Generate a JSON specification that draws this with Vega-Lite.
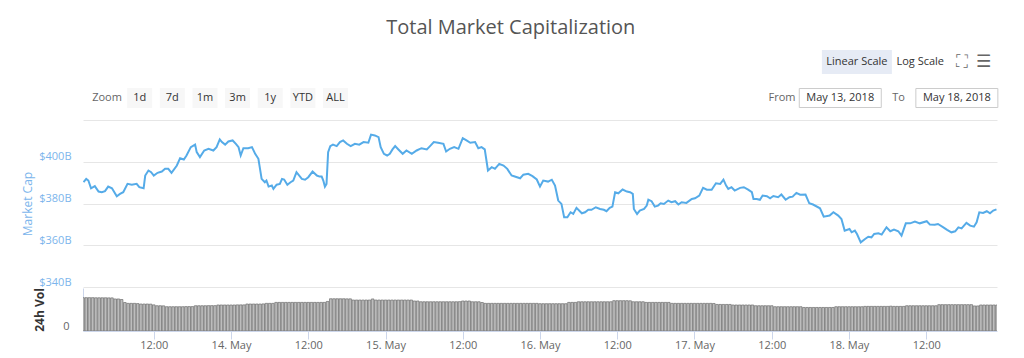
{
"$schema": "https://vega.github.io/schema/vega-lite/v6.json",
"padding": {"left": 21, "top": 18, "right": 5, "bottom": 5},
"background": "white",
"config": {"view": {"stroke": null}, "font": "Open Sans"},
"title": {"text": "Total Market Capitalization", "fontSize": 20, "font": "Open Sans", "fontWeight": "normal", "color": "#555555", "anchor": "middle", "frame": "bounds", "offset": 6},
"spacing": 0,
"resolve": {"scale": {"x": "shared"}},
"datasets": {
"ui": [
{"label": "Linear Scale", "group": "scale", "tier": "top"},
{"label": "Log Scale", "group": "scale", "tier": "top"},
{"label": "⛶", "group": "icons", "tier": "top"},
{"label": "☰", "group": "icons", "tier": "top"},
{"label": "Zoom", "group": "zoom", "tier": "bottom"},
{"label": "1d", "group": "zoom", "tier": "bottom"},
{"label": "7d", "group": "zoom", "tier": "bottom"},
{"label": "1m", "group": "zoom", "tier": "bottom"},
{"label": "3m", "group": "zoom", "tier": "bottom"},
{"label": "1y", "group": "zoom", "tier": "bottom"},
{"label": "YTD", "group": "zoom", "tier": "bottom"},
{"label": "ALL", "group": "zoom", "tier": "bottom"},
{"label": "From", "group": "range", "tier": "bottom"},
{"label": "May 13, 2018", "group": "range", "tier": "bottom"},
{"label": "To", "group": "range", "tier": "bottom"},
{"label": "May 18, 2018", "group": "range", "tier": "bottom"}
],
"mcap": [
{"t":"2018-05-13T01:05","cap":390.2},{"t":"2018-05-13T01:30","cap":391.8},{"t":"2018-05-13T01:50","cap":391.0},{"t":"2018-05-13T02:15","cap":387.3},{"t":"2018-05-13T02:50","cap":388.3},{"t":"2018-05-13T03:25","cap":385.7},{"t":"2018-05-13T03:55","cap":385.4},{"t":"2018-05-13T04:25","cap":385.9},{"t":"2018-05-13T04:55","cap":388.1},{"t":"2018-05-13T05:30","cap":387.3},{"t":"2018-05-13T06:15","cap":383.5},{"t":"2018-05-13T06:45","cap":384.6},{"t":"2018-05-13T07:15","cap":385.4},{"t":"2018-05-13T07:55","cap":389.4},{"t":"2018-05-13T08:35","cap":389.0},{"t":"2018-05-13T09:20","cap":389.4},{"t":"2018-05-13T09:45","cap":387.8},{"t":"2018-05-13T10:25","cap":387.3},{"t":"2018-05-13T10:40","cap":393.4},{"t":"2018-05-13T11:10","cap":395.8},{"t":"2018-05-13T11:35","cap":395.0},{"t":"2018-05-13T12:00","cap":393.4},{"t":"2018-05-13T12:35","cap":394.7},{"t":"2018-05-13T13:15","cap":395.3},{"t":"2018-05-13T13:45","cap":396.6},{"t":"2018-05-13T14:15","cap":396.6},{"t":"2018-05-13T14:45","cap":394.7},{"t":"2018-05-13T15:35","cap":398.2},{"t":"2018-05-13T16:05","cap":401.7},{"t":"2018-05-13T16:40","cap":401.1},{"t":"2018-05-13T17:05","cap":403.0},{"t":"2018-05-13T17:45","cap":407.0},{"t":"2018-05-13T18:25","cap":408.2},{"t":"2018-05-13T18:40","cap":404.6},{"t":"2018-05-13T19:10","cap":402.2},{"t":"2018-05-13T19:50","cap":405.4},{"t":"2018-05-13T20:30","cap":406.2},{"t":"2018-05-13T21:15","cap":405.4},{"t":"2018-05-13T21:45","cap":407.0},{"t":"2018-05-13T22:15","cap":410.7},{"t":"2018-05-13T22:35","cap":409.4},{"t":"2018-05-13T23:05","cap":408.2},{"t":"2018-05-13T23:35","cap":409.7},
{"t":"2018-05-14T00:15","cap":410.2},{"t":"2018-05-14T00:45","cap":408.6},{"t":"2018-05-14T01:10","cap":407.0},{"t":"2018-05-14T01:30","cap":403.0},{"t":"2018-05-14T01:55","cap":406.5},{"t":"2018-05-14T02:40","cap":406.5},{"t":"2018-05-14T03:15","cap":407.0},{"t":"2018-05-14T03:45","cap":403.8},{"t":"2018-05-14T04:15","cap":401.4},{"t":"2018-05-14T04:45","cap":391.8},{"t":"2018-05-14T05:15","cap":390.2},{"t":"2018-05-14T05:30","cap":391.0},{"t":"2018-05-14T05:50","cap":388.1},{"t":"2018-05-14T06:20","cap":388.6},{"t":"2018-05-14T06:35","cap":387.0},{"t":"2018-05-14T07:05","cap":389.0},{"t":"2018-05-14T07:35","cap":389.4},{"t":"2018-05-14T07:55","cap":391.8},{"t":"2018-05-14T08:15","cap":391.5},{"t":"2018-05-14T08:45","cap":389.0},{"t":"2018-05-14T09:15","cap":390.2},{"t":"2018-05-14T09:40","cap":391.0},{"t":"2018-05-14T10:10","cap":395.0},{"t":"2018-05-14T11:00","cap":391.8},{"t":"2018-05-14T11:30","cap":391.4},{"t":"2018-05-14T12:00","cap":392.6},{"t":"2018-05-14T12:40","cap":395.3},{"t":"2018-05-14T13:20","cap":393.4},{"t":"2018-05-14T13:45","cap":392.9},{"t":"2018-05-14T14:05","cap":392.9},{"t":"2018-05-14T14:20","cap":391.0},{"t":"2018-05-14T14:35","cap":388.1},{"t":"2018-05-14T14:50","cap":389.4},{"t":"2018-05-14T15:05","cap":404.6},{"t":"2018-05-14T15:25","cap":407.5},{"t":"2018-05-14T15:50","cap":408.2},{"t":"2018-05-14T16:25","cap":407.5},{"t":"2018-05-14T16:55","cap":409.4},{"t":"2018-05-14T17:25","cap":410.2},{"t":"2018-05-14T18:00","cap":408.6},{"t":"2018-05-14T18:35","cap":407.5},{"t":"2018-05-14T19:15","cap":408.6},{"t":"2018-05-14T19:55","cap":408.2},{"t":"2018-05-14T20:35","cap":409.4},{"t":"2018-05-14T21:20","cap":409.1},{"t":"2018-05-14T21:45","cap":413.0},{"t":"2018-05-14T22:20","cap":412.6},{"t":"2018-05-14T22:55","cap":411.8},{"t":"2018-05-14T23:15","cap":407.0},{"t":"2018-05-14T23:45","cap":403.8},
{"t":"2018-05-15T00:15","cap":403.0},{"t":"2018-05-15T00:40","cap":403.8},{"t":"2018-05-15T01:05","cap":405.9},{"t":"2018-05-15T01:30","cap":407.5},{"t":"2018-05-15T02:00","cap":405.9},{"t":"2018-05-15T02:40","cap":403.8},{"t":"2018-05-15T03:15","cap":405.4},{"t":"2018-05-15T04:05","cap":403.8},{"t":"2018-05-15T04:50","cap":405.4},{"t":"2018-05-15T05:35","cap":406.5},{"t":"2018-05-15T06:25","cap":405.9},{"t":"2018-05-15T06:55","cap":407.5},{"t":"2018-05-15T07:30","cap":409.4},{"t":"2018-05-15T08:10","cap":409.1},{"t":"2018-05-15T09:00","cap":408.6},{"t":"2018-05-15T09:25","cap":404.9},{"t":"2018-05-15T10:00","cap":406.2},{"t":"2018-05-15T10:40","cap":407.0},{"t":"2018-05-15T11:20","cap":406.2},{"t":"2018-05-15T12:00","cap":411.3},{"t":"2018-05-15T12:35","cap":410.2},{"t":"2018-05-15T13:10","cap":409.1},{"t":"2018-05-15T13:55","cap":409.4},{"t":"2018-05-15T14:25","cap":406.5},{"t":"2018-05-15T14:55","cap":407.0},{"t":"2018-05-15T15:25","cap":405.9},{"t":"2018-05-15T15:55","cap":395.8},{"t":"2018-05-15T16:30","cap":397.4},{"t":"2018-05-15T17:00","cap":396.6},{"t":"2018-05-15T17:40","cap":399.0},{"t":"2018-05-15T18:20","cap":398.2},{"t":"2018-05-15T18:55","cap":396.6},{"t":"2018-05-15T19:35","cap":393.4},{"t":"2018-05-15T20:05","cap":392.9},{"t":"2018-05-15T20:55","cap":392.1},{"t":"2018-05-15T21:25","cap":393.8},{"t":"2018-05-15T22:10","cap":394.2},{"t":"2018-05-15T22:50","cap":393.1},{"t":"2018-05-15T23:30","cap":391.5},
{"t":"2018-05-16T00:00","cap":388.1},{"t":"2018-05-16T00:30","cap":391.0},{"t":"2018-05-16T01:15","cap":390.5},{"t":"2018-05-16T01:50","cap":391.4},{"t":"2018-05-16T02:20","cap":388.6},{"t":"2018-05-16T02:50","cap":381.4},{"t":"2018-05-16T03:20","cap":379.8},{"t":"2018-05-16T03:45","cap":373.4},{"t":"2018-05-16T04:15","cap":373.4},{"t":"2018-05-16T04:45","cap":375.8},{"t":"2018-05-16T05:10","cap":375.0},{"t":"2018-05-16T05:40","cap":377.9},{"t":"2018-05-16T06:30","cap":375.3},{"t":"2018-05-16T07:00","cap":375.8},{"t":"2018-05-16T07:30","cap":377.0},{"t":"2018-05-16T08:00","cap":377.0},{"t":"2018-05-16T08:40","cap":378.2},{"t":"2018-05-16T09:20","cap":377.4},{"t":"2018-05-16T09:55","cap":377.0},{"t":"2018-05-16T10:20","cap":376.3},{"t":"2018-05-16T10:50","cap":377.9},{"t":"2018-05-16T11:15","cap":378.5},{"t":"2018-05-16T11:40","cap":385.4},{"t":"2018-05-16T12:10","cap":384.9},{"t":"2018-05-16T12:50","cap":386.7},{"t":"2018-05-16T13:30","cap":385.7},{"t":"2018-05-16T14:00","cap":385.4},{"t":"2018-05-16T14:25","cap":384.6},{"t":"2018-05-16T14:35","cap":377.4},{"t":"2018-05-16T15:05","cap":375.0},{"t":"2018-05-16T15:30","cap":376.6},{"t":"2018-05-16T16:10","cap":377.4},{"t":"2018-05-16T16:35","cap":379.0},{"t":"2018-05-16T16:50","cap":381.8},{"t":"2018-05-16T17:20","cap":381.1},{"t":"2018-05-16T17:50","cap":378.5},{"t":"2018-05-16T18:20","cap":379.0},{"t":"2018-05-16T18:45","cap":380.1},{"t":"2018-05-16T19:15","cap":379.8},{"t":"2018-05-16T19:55","cap":381.4},{"t":"2018-05-16T20:25","cap":380.6},{"t":"2018-05-16T21:00","cap":381.1},{"t":"2018-05-16T21:30","cap":379.5},{"t":"2018-05-16T22:00","cap":380.6},{"t":"2018-05-16T22:45","cap":380.3},{"t":"2018-05-16T23:35","cap":382.2},
{"t":"2018-05-17T00:05","cap":382.5},{"t":"2018-05-17T00:45","cap":383.8},{"t":"2018-05-17T01:20","cap":387.5},{"t":"2018-05-17T01:55","cap":386.6},{"t":"2018-05-17T02:40","cap":386.6},{"t":"2018-05-17T03:20","cap":389.7},{"t":"2018-05-17T04:00","cap":389.4},{"t":"2018-05-17T04:30","cap":391.4},{"t":"2018-05-17T04:55","cap":388.6},{"t":"2018-05-17T05:15","cap":387.0},{"t":"2018-05-17T05:45","cap":387.8},{"t":"2018-05-17T06:15","cap":386.2},{"t":"2018-05-17T07:05","cap":387.5},{"t":"2018-05-17T07:40","cap":387.8},{"t":"2018-05-17T08:20","cap":386.6},{"t":"2018-05-17T08:55","cap":385.4},{"t":"2018-05-17T09:10","cap":382.2},{"t":"2018-05-17T09:40","cap":382.2},{"t":"2018-05-17T10:10","cap":381.8},{"t":"2018-05-17T10:35","cap":383.8},{"t":"2018-05-17T11:15","cap":383.5},{"t":"2018-05-17T11:45","cap":382.5},{"t":"2018-05-17T12:15","cap":383.6},{"t":"2018-05-17T13:00","cap":383.0},{"t":"2018-05-17T13:30","cap":384.3},{"t":"2018-05-17T14:10","cap":381.8},{"t":"2018-05-17T14:45","cap":383.0},{"t":"2018-05-17T15:15","cap":383.3},{"t":"2018-05-17T15:50","cap":385.1},{"t":"2018-05-17T16:25","cap":384.2},{"t":"2018-05-17T17:15","cap":384.3},{"t":"2018-05-17T17:50","cap":380.1},{"t":"2018-05-17T18:25","cap":379.5},{"t":"2018-05-17T19:30","cap":377.7},{"t":"2018-05-17T20:05","cap":373.7},{"t":"2018-05-17T21:00","cap":374.2},{"t":"2018-05-17T21:35","cap":375.8},{"t":"2018-05-17T22:20","cap":374.2},{"t":"2018-05-17T22:50","cap":372.6},{"t":"2018-05-17T23:20","cap":367.0},
{"t":"2018-05-18T00:05","cap":367.8},{"t":"2018-05-18T00:25","cap":366.2},{"t":"2018-05-18T00:55","cap":367.0},{"t":"2018-05-18T01:15","cap":365.4},{"t":"2018-05-18T01:50","cap":361.4},{"t":"2018-05-18T02:30","cap":363.0},{"t":"2018-05-18T03:00","cap":364.1},{"t":"2018-05-18T03:30","cap":363.8},{"t":"2018-05-18T03:55","cap":365.4},{"t":"2018-05-18T04:35","cap":365.7},{"t":"2018-05-18T05:05","cap":365.1},{"t":"2018-05-18T05:50","cap":368.6},{"t":"2018-05-18T06:25","cap":366.7},{"t":"2018-05-18T07:00","cap":367.5},{"t":"2018-05-18T07:40","cap":366.7},{"t":"2018-05-18T08:10","cap":364.6},{"t":"2018-05-18T08:50","cap":370.5},{"t":"2018-05-18T09:30","cap":370.5},{"t":"2018-05-18T10:15","cap":371.3},{"t":"2018-05-18T11:00","cap":370.5},{"t":"2018-05-18T12:05","cap":371.5},{"t":"2018-05-18T12:35","cap":369.9},{"t":"2018-05-18T13:20","cap":369.8},{"t":"2018-05-18T13:50","cap":370.2},{"t":"2018-05-18T14:40","cap":368.6},{"t":"2018-05-18T15:15","cap":367.4},{"t":"2018-05-18T15:55","cap":366.2},{"t":"2018-05-18T16:30","cap":366.7},{"t":"2018-05-18T17:00","cap":368.6},{"t":"2018-05-18T17:30","cap":368.1},{"t":"2018-05-18T18:15","cap":370.7},{"t":"2018-05-18T18:50","cap":369.4},{"t":"2018-05-18T19:25","cap":368.9},{"t":"2018-05-18T19:50","cap":371.0},{"t":"2018-05-18T20:15","cap":375.8},{"t":"2018-05-18T20:50","cap":375.5},{"t":"2018-05-18T21:25","cap":376.3},{"t":"2018-05-18T21:55","cap":375.3},{"t":"2018-05-18T22:25","cap":376.6},{"t":"2018-05-18T22:55","cap":377.2}
],
"vol": [
{"t":"2018-05-13T01:00","v":31.0},{"t":"2018-05-13T01:30","v":31.0},{"t":"2018-05-13T02:00","v":31.0},{"t":"2018-05-13T02:30","v":31.0},{"t":"2018-05-13T03:00","v":30.9},{"t":"2018-05-13T03:30","v":30.9},{"t":"2018-05-13T04:00","v":30.9},{"t":"2018-05-13T04:30","v":30.9},{"t":"2018-05-13T05:00","v":30.8},{"t":"2018-05-13T05:30","v":30.8},{"t":"2018-05-13T06:00","v":29.8},{"t":"2018-05-13T06:30","v":29.8},{"t":"2018-05-13T07:00","v":29.3},{"t":"2018-05-13T07:30","v":26.5},{"t":"2018-05-13T08:00","v":25.7},{"t":"2018-05-13T08:30","v":25.7},{"t":"2018-05-13T09:00","v":25.7},{"t":"2018-05-13T09:30","v":25.5},{"t":"2018-05-13T10:00","v":25.1},{"t":"2018-05-13T10:30","v":25.1},{"t":"2018-05-13T11:00","v":25.1},{"t":"2018-05-13T11:30","v":25.0},{"t":"2018-05-13T12:00","v":24.3},{"t":"2018-05-13T12:30","v":23.5},{"t":"2018-05-13T13:00","v":23.5},{"t":"2018-05-13T13:30","v":23.4},{"t":"2018-05-13T14:00","v":22.6},{"t":"2018-05-13T14:30","v":22.6},{"t":"2018-05-13T15:00","v":22.6},{"t":"2018-05-13T15:30","v":22.6},{"t":"2018-05-13T16:00","v":22.6},{"t":"2018-05-13T16:30","v":22.6},{"t":"2018-05-13T17:00","v":22.7},{"t":"2018-05-13T17:30","v":22.7},{"t":"2018-05-13T18:00","v":22.7},{"t":"2018-05-13T18:30","v":23.5},{"t":"2018-05-13T19:00","v":23.5},{"t":"2018-05-13T19:30","v":23.5},{"t":"2018-05-13T20:00","v":23.5},{"t":"2018-05-13T20:30","v":23.6},{"t":"2018-05-13T21:00","v":23.6},{"t":"2018-05-13T21:30","v":23.6},{"t":"2018-05-13T22:00","v":24.2},{"t":"2018-05-13T22:30","v":24.2},{"t":"2018-05-13T23:00","v":24.2},{"t":"2018-05-13T23:30","v":24.2},
{"t":"2018-05-14T00:00","v":24.2},{"t":"2018-05-14T00:30","v":24.2},{"t":"2018-05-14T01:00","v":24.3},{"t":"2018-05-14T01:30","v":24.3},{"t":"2018-05-14T02:00","v":24.3},{"t":"2018-05-14T02:30","v":25.1},{"t":"2018-05-14T03:00","v":25.1},{"t":"2018-05-14T03:30","v":25.1},{"t":"2018-05-14T04:00","v":25.1},{"t":"2018-05-14T04:30","v":25.1},{"t":"2018-05-14T05:00","v":25.2},{"t":"2018-05-14T05:30","v":25.7},{"t":"2018-05-14T06:00","v":25.7},{"t":"2018-05-14T06:30","v":25.7},{"t":"2018-05-14T07:00","v":26.6},{"t":"2018-05-14T07:30","v":26.6},{"t":"2018-05-14T08:00","v":26.6},{"t":"2018-05-14T08:30","v":26.6},{"t":"2018-05-14T09:00","v":26.6},{"t":"2018-05-14T09:30","v":26.6},{"t":"2018-05-14T10:00","v":26.6},{"t":"2018-05-14T10:30","v":26.6},{"t":"2018-05-14T11:00","v":26.6},{"t":"2018-05-14T11:30","v":26.6},{"t":"2018-05-14T12:00","v":26.6},{"t":"2018-05-14T12:30","v":26.6},{"t":"2018-05-14T13:00","v":26.6},{"t":"2018-05-14T13:30","v":26.6},{"t":"2018-05-14T14:00","v":26.6},{"t":"2018-05-14T14:30","v":26.6},{"t":"2018-05-14T15:00","v":27.5},{"t":"2018-05-14T15:30","v":30.0},{"t":"2018-05-14T16:00","v":30.0},{"t":"2018-05-14T16:30","v":30.0},{"t":"2018-05-14T17:00","v":30.0},{"t":"2018-05-14T17:30","v":30.0},{"t":"2018-05-14T18:00","v":29.9},{"t":"2018-05-14T18:30","v":29.9},{"t":"2018-05-14T19:00","v":28.8},{"t":"2018-05-14T19:30","v":28.8},{"t":"2018-05-14T20:00","v":28.8},{"t":"2018-05-14T20:30","v":28.8},{"t":"2018-05-14T21:00","v":28.8},{"t":"2018-05-14T21:30","v":28.8},{"t":"2018-05-14T22:00","v":29.8},{"t":"2018-05-14T22:30","v":28.8},{"t":"2018-05-14T23:00","v":28.8},{"t":"2018-05-14T23:30","v":28.8},
{"t":"2018-05-15T00:00","v":28.8},{"t":"2018-05-15T00:30","v":28.8},{"t":"2018-05-15T01:00","v":28.8},{"t":"2018-05-15T01:30","v":28.8},{"t":"2018-05-15T02:00","v":28.8},{"t":"2018-05-15T02:30","v":28.8},{"t":"2018-05-15T03:00","v":28.8},{"t":"2018-05-15T03:30","v":28.8},{"t":"2018-05-15T04:00","v":28.8},{"t":"2018-05-15T04:30","v":27.9},{"t":"2018-05-15T05:00","v":27.9},{"t":"2018-05-15T05:30","v":27.2},{"t":"2018-05-15T06:00","v":27.2},{"t":"2018-05-15T06:30","v":27.2},{"t":"2018-05-15T07:00","v":27.2},{"t":"2018-05-15T07:30","v":27.2},{"t":"2018-05-15T08:00","v":27.2},{"t":"2018-05-15T08:30","v":27.2},{"t":"2018-05-15T09:00","v":27.2},{"t":"2018-05-15T09:30","v":27.2},{"t":"2018-05-15T10:00","v":27.2},{"t":"2018-05-15T10:30","v":27.2},{"t":"2018-05-15T11:00","v":27.2},{"t":"2018-05-15T11:30","v":27.3},{"t":"2018-05-15T12:00","v":27.9},{"t":"2018-05-15T12:30","v":27.9},{"t":"2018-05-15T13:00","v":27.9},{"t":"2018-05-15T13:30","v":27.2},{"t":"2018-05-15T14:00","v":27.2},{"t":"2018-05-15T14:30","v":27.2},{"t":"2018-05-15T15:00","v":26.5},{"t":"2018-05-15T15:30","v":25.7},{"t":"2018-05-15T16:00","v":25.7},{"t":"2018-05-15T16:30","v":25.7},{"t":"2018-05-15T17:00","v":25.7},{"t":"2018-05-15T17:30","v":25.7},{"t":"2018-05-15T18:00","v":25.7},{"t":"2018-05-15T18:30","v":25.7},{"t":"2018-05-15T19:00","v":25.7},{"t":"2018-05-15T19:30","v":25.7},{"t":"2018-05-15T20:00","v":25.7},{"t":"2018-05-15T20:30","v":25.7},{"t":"2018-05-15T21:00","v":25.7},{"t":"2018-05-15T21:30","v":25.7},{"t":"2018-05-15T22:00","v":25.7},{"t":"2018-05-15T22:30","v":25.7},{"t":"2018-05-15T23:00","v":25.7},{"t":"2018-05-15T23:30","v":25.7},
{"t":"2018-05-16T00:00","v":25.4},{"t":"2018-05-16T00:30","v":25.4},{"t":"2018-05-16T01:00","v":25.4},{"t":"2018-05-16T01:30","v":25.4},{"t":"2018-05-16T02:00","v":25.4},{"t":"2018-05-16T02:30","v":25.4},{"t":"2018-05-16T03:00","v":25.4},{"t":"2018-05-16T03:30","v":25.4},{"t":"2018-05-16T04:00","v":25.4},{"t":"2018-05-16T04:30","v":26.6},{"t":"2018-05-16T05:00","v":26.6},{"t":"2018-05-16T05:30","v":26.6},{"t":"2018-05-16T06:00","v":27.2},{"t":"2018-05-16T06:30","v":27.2},{"t":"2018-05-16T07:00","v":27.2},{"t":"2018-05-16T07:30","v":27.2},{"t":"2018-05-16T08:00","v":27.2},{"t":"2018-05-16T08:30","v":27.2},{"t":"2018-05-16T09:00","v":27.2},{"t":"2018-05-16T09:30","v":27.2},{"t":"2018-05-16T10:00","v":27.2},{"t":"2018-05-16T10:30","v":27.2},{"t":"2018-05-16T11:00","v":27.2},{"t":"2018-05-16T11:30","v":28.2},{"t":"2018-05-16T12:00","v":28.2},{"t":"2018-05-16T12:30","v":28.2},{"t":"2018-05-16T13:00","v":28.2},{"t":"2018-05-16T13:30","v":28.2},{"t":"2018-05-16T14:00","v":28.1},{"t":"2018-05-16T14:30","v":27.2},{"t":"2018-05-16T15:00","v":27.2},{"t":"2018-05-16T15:30","v":27.2},{"t":"2018-05-16T16:00","v":27.2},{"t":"2018-05-16T16:30","v":26.6},{"t":"2018-05-16T17:00","v":26.6},{"t":"2018-05-16T17:30","v":26.6},{"t":"2018-05-16T18:00","v":26.6},{"t":"2018-05-16T18:30","v":26.6},{"t":"2018-05-16T19:00","v":26.6},{"t":"2018-05-16T19:30","v":26.6},{"t":"2018-05-16T20:00","v":26.6},{"t":"2018-05-16T20:30","v":25.7},{"t":"2018-05-16T21:00","v":25.7},{"t":"2018-05-16T21:30","v":25.7},{"t":"2018-05-16T22:00","v":25.7},{"t":"2018-05-16T22:30","v":25.7},{"t":"2018-05-16T23:00","v":25.7},{"t":"2018-05-16T23:30","v":25.7},
{"t":"2018-05-17T00:00","v":25.7},{"t":"2018-05-17T00:30","v":25.7},{"t":"2018-05-17T01:00","v":25.7},{"t":"2018-05-17T01:30","v":25.7},{"t":"2018-05-17T02:00","v":25.7},{"t":"2018-05-17T02:30","v":25.7},{"t":"2018-05-17T03:00","v":25.6},{"t":"2018-05-17T03:30","v":24.7},{"t":"2018-05-17T04:00","v":24.7},{"t":"2018-05-17T04:30","v":24.7},{"t":"2018-05-17T05:00","v":24.7},{"t":"2018-05-17T05:30","v":24.7},{"t":"2018-05-17T06:00","v":24.2},{"t":"2018-05-17T06:30","v":24.2},{"t":"2018-05-17T07:00","v":24.2},{"t":"2018-05-17T07:30","v":24.2},{"t":"2018-05-17T08:00","v":24.2},{"t":"2018-05-17T08:30","v":24.2},{"t":"2018-05-17T09:00","v":24.2},{"t":"2018-05-17T09:30","v":23.5},{"t":"2018-05-17T10:00","v":23.5},{"t":"2018-05-17T10:30","v":23.5},{"t":"2018-05-17T11:00","v":23.5},{"t":"2018-05-17T11:30","v":23.5},{"t":"2018-05-17T12:00","v":23.5},{"t":"2018-05-17T12:30","v":22.6},{"t":"2018-05-17T13:00","v":22.6},{"t":"2018-05-17T13:30","v":22.6},{"t":"2018-05-17T14:00","v":22.6},{"t":"2018-05-17T14:30","v":22.6},{"t":"2018-05-17T15:00","v":22.6},{"t":"2018-05-17T15:30","v":22.6},{"t":"2018-05-17T16:00","v":22.6},{"t":"2018-05-17T16:30","v":22.6},{"t":"2018-05-17T17:00","v":21.9},{"t":"2018-05-17T17:30","v":21.9},{"t":"2018-05-17T18:00","v":21.9},{"t":"2018-05-17T18:30","v":21.9},{"t":"2018-05-17T19:00","v":21.9},{"t":"2018-05-17T19:30","v":21.9},{"t":"2018-05-17T20:00","v":21.9},{"t":"2018-05-17T20:30","v":21.9},{"t":"2018-05-17T21:00","v":21.9},{"t":"2018-05-17T21:30","v":21.9},{"t":"2018-05-17T22:00","v":22.6},{"t":"2018-05-17T22:30","v":22.6},{"t":"2018-05-17T23:00","v":22.6},{"t":"2018-05-17T23:30","v":22.6},
{"t":"2018-05-18T00:00","v":22.6},{"t":"2018-05-18T00:30","v":22.6},{"t":"2018-05-18T01:00","v":22.6},{"t":"2018-05-18T01:30","v":22.6},{"t":"2018-05-18T02:00","v":22.6},{"t":"2018-05-18T02:30","v":22.9},{"t":"2018-05-18T03:00","v":22.9},{"t":"2018-05-18T03:30","v":22.9},{"t":"2018-05-18T04:00","v":22.9},{"t":"2018-05-18T04:30","v":22.9},{"t":"2018-05-18T05:00","v":22.9},{"t":"2018-05-18T05:30","v":22.9},{"t":"2018-05-18T06:00","v":22.9},{"t":"2018-05-18T06:30","v":23.1},{"t":"2018-05-18T07:00","v":22.9},{"t":"2018-05-18T07:30","v":22.9},{"t":"2018-05-18T08:00","v":22.9},{"t":"2018-05-18T08:30","v":22.9},{"t":"2018-05-18T09:00","v":23.5},{"t":"2018-05-18T09:30","v":23.5},{"t":"2018-05-18T10:00","v":23.5},{"t":"2018-05-18T10:30","v":23.5},{"t":"2018-05-18T11:00","v":23.5},{"t":"2018-05-18T11:30","v":23.5},{"t":"2018-05-18T12:00","v":23.5},{"t":"2018-05-18T12:30","v":23.5},{"t":"2018-05-18T13:00","v":23.5},{"t":"2018-05-18T13:30","v":23.5},{"t":"2018-05-18T14:00","v":24.5},{"t":"2018-05-18T14:30","v":24.5},{"t":"2018-05-18T15:00","v":24.5},{"t":"2018-05-18T15:30","v":24.5},{"t":"2018-05-18T16:00","v":24.5},{"t":"2018-05-18T16:30","v":24.5},{"t":"2018-05-18T17:00","v":24.5},{"t":"2018-05-18T17:30","v":24.5},{"t":"2018-05-18T18:00","v":24.5},{"t":"2018-05-18T18:30","v":24.5},{"t":"2018-05-18T19:00","v":24.5},{"t":"2018-05-18T19:30","v":23.3},{"t":"2018-05-18T20:00","v":23.3},{"t":"2018-05-18T20:30","v":24.2},{"t":"2018-05-18T21:00","v":24.2},{"t":"2018-05-18T21:30","v":24.2},{"t":"2018-05-18T22:00","v":24.2},{"t":"2018-05-18T22:30","v":24.2},{"t":"2018-05-18T23:00","v":24.2}
]
},
"vconcat": [
{
"width": 914, "height": 76,
"data": {"name": "ui"},
"resolve": {"scale": {"x": "independent"}},
"encoding": {
"y": {"field": "tier", "type": "nominal", "scale": {"type": "point", "domain": ["top", "bottom"], "padding": 0.5556, "align": 0.45}, "axis": null}
},
"layer": [
{"transform": [{"filter": {"field": "group", "oneOf": ["zoom"]}}, {"filter": "datum.label != 'Zoom'"}],
 "mark": {"type": "point", "shape": "M-1,-0.8H1V0.8H-1Z", "size": 625, "filled": true, "fill": "#f7f7f7", "strokeWidth": 0, "opacity": 1},
 "encoding": {"x": {"field": "label", "type": "nominal", "scale": {"type": "point", "domain": ["Zoom","1d","7d","1m","3m","1y","YTD","ALL","_z1","_z2","_z3","_z4","_z5","_z6","_z7","_z8","_z9","_z10","_z11","_z12","_z13","_z14","_z15","_z16","_z17","_z18","_z19"], "padding": 1, "align": 0.368}, "axis": null}}},
{"transform": [{"filter": {"field": "group", "oneOf": ["zoom"]}}],
 "mark": {"type": "text", "fontSize": 11, "font": "Open Sans"},
 "encoding": {"x": {"field": "label", "type": "nominal", "scale": {"type": "point", "domain": ["Zoom","1d","7d","1m","3m","1y","YTD","ALL","_z1","_z2","_z3","_z4","_z5","_z6","_z7","_z8","_z9","_z10","_z11","_z12","_z13","_z14","_z15","_z16","_z17","_z18","_z19"], "padding": 1, "align": 0.368}, "axis": null},
  "text": {"field": "label"},
  "color": {"condition": {"test": "datum.label == 'Zoom'", "value": "#666666"}, "value": "#333333"}}},
{"transform": [{"filter": {"field": "label", "oneOf": ["May 13, 2018", "May 18, 2018"]}}],
 "mark": {"type": "point", "shape": "M-1,-0.232H1V0.232H-1Z", "size": 6724, "filled": true, "fill": "#ffffff", "stroke": "#cccccc", "strokeWidth": 1, "opacity": 1},
 "encoding": {"x": {"field": "label", "type": "nominal", "scale": {"type": "point", "domain": ["_r1","_r2","_r3","_r4","_r5","_r6","_r7","_r8","_r9","_r10","_r11","From","May 13, 2018","To","May 18, 2018"], "padding": 0.84, "align": 0.59}, "axis": null}}},
{"transform": [{"filter": {"field": "group", "oneOf": ["range"]}}],
 "mark": {"type": "text", "fontSize": 11, "font": "Open Sans"},
 "encoding": {"x": {"field": "label", "type": "nominal", "scale": {"type": "point", "domain": ["_r1","_r2","_r3","_r4","_r5","_r6","_r7","_r8","_r9","_r10","_r11","From","May 13, 2018","To","May 18, 2018"], "padding": 0.84, "align": 0.59}, "axis": null},
  "text": {"field": "label"},
  "color": {"condition": {"test": "datum.label == 'From' || datum.label == 'To'", "value": "#666666"}, "value": "#333333"}}},
{"transform": [{"filter": {"field": "label", "oneOf": ["Linear Scale"]}}],
 "mark": {"type": "point", "shape": "M-1,-0.34H1V0.34H-1Z", "size": 4900, "filled": true, "fill": "#e6ebf5", "strokeWidth": 0, "opacity": 1},
 "encoding": {"x": {"field": "label", "type": "nominal", "scale": {"type": "point", "domain": ["_t1","_t2","_t3","_t4","_t5","_t6","_t7","_t8","_t9","_t10","_t11","_t12","_t13","_t14","_t15","_t16","_t17","_t18","_t19","_t20","_t21","_t22","_t23","_t24","_t25","_t26","_t27","_t28","_t29","_t30","_t31","_t32","_t33","_t34","_t35","_t36","Linear Scale","_t37","_t38","Log Scale","_t39","⛶","☰"], "padding": 0.65, "align": 0.51}, "axis": null}}},
{"transform": [{"filter": {"field": "group", "oneOf": ["scale"]}}],
 "mark": {"type": "text", "fontSize": 11, "font": "Open Sans", "color": "#333333"},
 "encoding": {"x": {"field": "label", "type": "nominal", "scale": {"type": "point", "domain": ["_t1","_t2","_t3","_t4","_t5","_t6","_t7","_t8","_t9","_t10","_t11","_t12","_t13","_t14","_t15","_t16","_t17","_t18","_t19","_t20","_t21","_t22","_t23","_t24","_t25","_t26","_t27","_t28","_t29","_t30","_t31","_t32","_t33","_t34","_t35","_t36","Linear Scale","_t37","_t38","Log Scale","_t39","⛶","☰"], "padding": 0.65, "align": 0.51}, "axis": null},
  "text": {"field": "label"}}},
{"transform": [{"filter": {"field": "group", "oneOf": ["icons"]}}],
 "mark": {"type": "text", "fontSize": 17, "font": "DejaVu Sans", "color": "#666666"},
 "encoding": {"x": {"field": "label", "type": "nominal", "scale": {"type": "point", "domain": ["_t1","_t2","_t3","_t4","_t5","_t6","_t7","_t8","_t9","_t10","_t11","_t12","_t13","_t14","_t15","_t16","_t17","_t18","_t19","_t20","_t21","_t22","_t23","_t24","_t25","_t26","_t27","_t28","_t29","_t30","_t31","_t32","_t33","_t34","_t35","_t36","Linear Scale","_t37","_t38","Log Scale","_t39","⛶","☰"], "padding": 0.65, "align": 0.51}, "axis": null},
  "text": {"field": "label"}}}
]
},
{
"width": 914, "height": 167,
"data": {"name": "mcap"},
"mark": {"type": "line", "color": "#55abe8", "strokeWidth": 2, "clip": true},
"encoding": {
"x": {"field": "t", "type": "temporal", "scale": {"padding": 0, "nice": false}, "axis": null},
"y": {"field": "cap", "type": "quantitative", "scale": {"domain": [340, 420], "nice": false, "zero": false},
 "axis": {"title": "Market Cap", "values": [340, 360, 380, 400, 420], "labelExpr": "datum.value == 420 ? '' : '$' + datum.value + 'B'", "grid": true, "gridColor": "#e6e6e6", "domain": false, "ticks": false, "labelColor": "#7cb5ec", "labelFontSize": 11, "labelFont": "Open Sans", "labelPadding": 12, "labelOffset": -5, "titleColor": "#7cb5ec", "titleFontSize": 12, "titleFontWeight": "normal", "titleFont": "Open Sans", "titlePadding": 4}}
}
},
{
"width": 914, "height": 43,
"data": {"name": "vol"},
"mark": {"type": "bar", "size": 2.6, "fill": "#bdbdbd", "stroke": "#6e6e6e", "strokeWidth": 0.7, "clip": true},
"encoding": {
"x": {"field": "t", "type": "temporal", "scale": {"padding": 0, "nice": false},
 "axis": {"title": null, "tickCount": 12, "labelExpr": "hours(datum.value) == 0 ? timeFormat(datum.value, '%d. %b') : timeFormat(datum.value, '%H:%M')", "grid": false, "domainColor": "#ccd6eb", "tickColor": "#ccd6eb", "tickSize": 8, "labelColor": "#666666", "labelFontSize": 11, "labelFont": "Open Sans", "labelPadding": 0, "labelFlush": false}},
"y": {"field": "v", "type": "quantitative", "scale": {"domain": [0, 40], "nice": false},
 "axis": {"title": "24h Vol", "values": [0], "grid": false, "domainColor": "#ccd6eb", "ticks": false, "labelColor": "#666666", "labelFontSize": 11, "labelFont": "Open Sans", "labelPadding": 14, "labelOffset": -5, "titleColor": "#333333", "titleFontWeight": "bold", "titleFontSize": 12, "titleFont": "Open Sans", "titlePadding": 16}}
}
}
]
}
